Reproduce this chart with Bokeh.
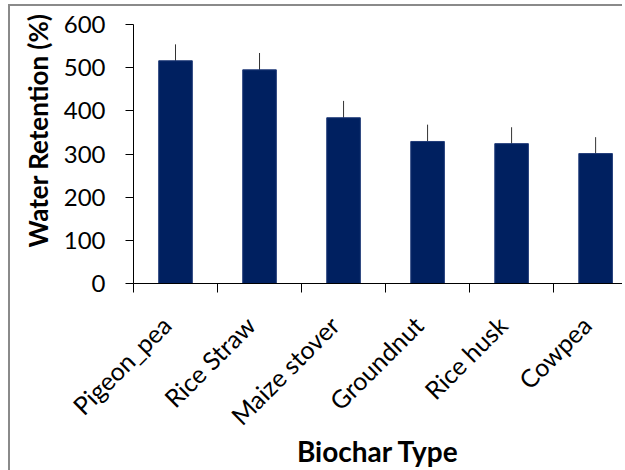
import math
from bokeh.plotting import figure
from bokeh.models import Range1d, LinearAxis, FixedTicker, ColumnDataSource, Whisker, Title
from bokeh.embed import file_html
from bokeh.resources import INLINE

categories = ["Pigeon_pea", "Rice Straw", "Maize stover", "Groundnut", "Rice husk", "Cowpea"]
retention = [516, 495, 384, 329, 324, 301]
errors = [38, 39, 39, 39, 38, 38]
y_ticks = [0, 100, 200, 300, 400, 500, 600]

positions = [i + 0.5 for i in range(len(categories))]
boundaries = list(range(len(categories) + 1))

src = ColumnDataSource(dict(
    x=positions,
    top=retention,
    upper=[v + e for v, e in zip(retention, errors)],
    lower=[v - e for v, e in zip(retention, errors)],
))

FONT = "Lato"
X_END = 5.82
LABEL_SHIFT = 0.11  # layout nudge of the rotated category labels

p = figure(
    frame_width=489, frame_height=259,
    x_range=Range1d(0, X_END), y_range=Range1d(0, 600),
    output_backend="svg", toolbar_location=None,
    x_axis_location=None,
    min_border_left=123, min_border_top=18, min_border_right=0, min_border_bottom=0,
    styles={"margin-left": "8px", "margin-top": "4px",
            "border-left": "2px solid #8a8a8a", "border-top": "2px solid #8a8a8a"},
)
p.grid.visible = False
p.outline_line_color = None

p.vbar(x="x", top="top", width=0.4, source=src, fill_color="#002060", line_color="#1f3a78", line_width=1)
p.add_layout(Whisker(base="x", upper="upper", lower="lower", source=src,
                     line_color="#333333", line_width=1,
                     upper_head=None, lower_head=None))

# y axis
ya = p.yaxis[0]
ya.ticker = FixedTicker(ticks=y_ticks)
ya.major_tick_in = 0
ya.major_tick_out = 8
ya.minor_tick_line_color = None
ya.axis_line_color = "black"
ya.major_tick_line_color = "black"
ya.major_label_text_font = FONT
ya.major_label_text_font_size = "24px"
ya.major_label_text_color = "black"
ya.major_label_standoff = 20

# y axis title as a left-side title, anchored near the top like the reference
p.add_layout(Title(text="Water Retention (%)", align="right", offset=-11,
                   text_font=FONT, text_font_size="26px", text_font_style="bold",
                   text_color="black", standoff=14), "left")

# x tick-mark axis (band boundaries)
xt = LinearAxis(ticker=FixedTicker(ticks=boundaries),
                major_label_overrides={b: "" for b in boundaries})
xt.major_tick_in = 0
xt.major_tick_out = 9
xt.minor_tick_line_color = None
xt.axis_line_color = "black"
xt.major_tick_line_color = "black"
xt.major_label_text_font_size = "6px"
xt.major_label_standoff = 0
p.add_layout(xt, "below")

# x category label axis
p.extra_x_ranges = {"labels": Range1d(LABEL_SHIFT, X_END + LABEL_SHIFT)}
xl = LinearAxis(x_range_name="labels", ticker=FixedTicker(ticks=positions),
                major_label_overrides={pos: cat for pos, cat in zip(positions, categories)})
xl.axis_line_color = None
xl.major_tick_line_color = None
xl.minor_tick_line_color = None
xl.major_label_orientation = math.pi / 4
xl.major_label_text_font = FONT
xl.major_label_text_font_size = "25px"
xl.major_label_text_color = "black"
xl.major_label_standoff = 22
xl.axis_label = "Biochar Type"
xl.axis_label_text_font = FONT
xl.axis_label_text_font_size = "28px"
xl.axis_label_text_font_style = "bold"
xl.axis_label_text_color = "black"
xl.axis_label_standoff = -10
p.add_layout(xl, "below")

open("out.html", "w").write(file_html(p, INLINE))
